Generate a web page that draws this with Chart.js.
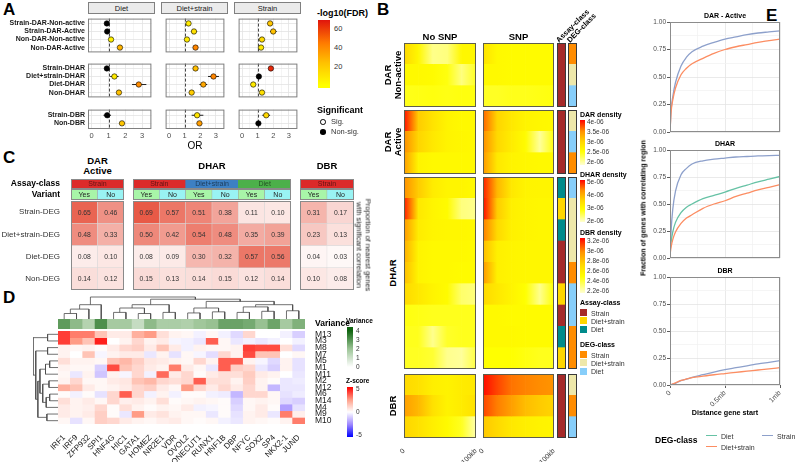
<!DOCTYPE html>
<html>
<head>
<meta charset="utf-8">
<title>Figure</title>
<script src="https://cdn.jsdelivr.net/npm/chart.js@4.4.1/dist/chart.umd.min.js"></script>
<style>
  html, body { margin:0; padding:0; background:#fff; }
  #root { position:relative; width:796px; height:462px; overflow:hidden; background:#fff;
          font-family:'Liberation Sans', Arial, Helvetica, sans-serif; }
  #root canvas { position:absolute; }
  .t { position:absolute; white-space:pre; line-height:1; transform-origin:0 0; }
  .b { position:absolute; box-sizing:border-box; }
</style>
</head>
<body>
<div id="root"></div>
<script>
/* ======================= DATA ======================= */
// ---- Panel A (rows in order rowsA1 + rowsA2 + rowsA3)
const facetsA = ['Diet', 'Diet+strain', 'Strain'];
const rowsA1 = ['Strain-DAR-Non-active', 'Strain-DAR-Active', 'Non-DAR-Non-active', 'Non-DAR-Active'];
const rowsA2 = ['Strain-DHAR', 'Diet+strain-DHAR', 'Diet-DHAR', 'Non-DHAR'];
const rowsA3 = ['Strain-DBR', 'Non-DBR'];
const orDiet    = [0.90, 0.92, 1.15, 1.68, 0.90, 1.35, 2.80, 1.62, 0.92, 1.80];
const loDiet    = [0.80, 0.80, 1.05, 1.58, 0.80, 1.10, 2.40, 1.52, 0.70, 1.65];
const hiDiet    = [1.00, 1.05, 1.25, 1.80, 1.00, 1.60, 3.25, 1.72, 1.15, 1.95];
const fdrDiet   = [0, 0, 6, 28, 0, 8, 40, 24, 0, 22];
const sigDiet   = [0, 0, 1, 1, 0, 1, 1, 1, 0, 1];
const orDS      = [1.25, 1.60, 1.15, 1.70, 1.70, 2.85, 2.20, 1.45, 1.80, 1.95];
const loDS      = [1.15, 1.42, 1.05, 1.62, 1.60, 2.50, 1.95, 1.38, 1.45, 1.82];
const hiDS      = [1.35, 1.80, 1.25, 1.80, 1.82, 3.20, 2.45, 1.52, 2.20, 2.10];
const fdrDS     = [8, 12, 8, 42, 25, 42, 32, 20, 10, 35];
const sigDS     = [1, 1, 1, 1, 1, 1, 1, 1, 1, 1];
const orStrain  = [1.80, 2.00, 1.28, 1.22, 1.85, 1.08, 0.72, 1.28, 1.55, 1.05];
const loStrain  = [1.65, 1.80, 1.20, 1.15, 1.75, 0.95, 0.65, 1.20, 1.30, 0.98];
const hiStrain  = [1.95, 2.22, 1.36, 1.30, 1.95, 1.20, 0.80, 1.36, 1.80, 1.12];
const fdrStrain = [22, 24, 14, 8, 65, 0, 8, 12, 15, 0];
const sigStrain = [1, 1, 1, 1, 1, 0, 1, 1, 1, 0];
const orTicks = [0, 0.5, 1, 1.5, 2, 2.5, 3, 3.5];
const fdrLegendTicks = [60, 40, 20];

// ---- Panel B (density x1e-06 at 0,20,40,60,80,100 kb)
const binKb = [0, 20, 40, 60, 80, 100];
const snpCols = ['No SNP', 'SNP'];
const groupLabelsB = ['DAR\nNon-active', 'DAR\nActive', 'DHAR', 'DBR'];
const densNA_noSNP = [[2.98,2.62,2.08,2.12,2.62,2.62],[2.59,2.59,2.57,2.48,2.12,2.41],[2.44,2.46,2.48,2.46,2.48,2.48]];
const densNA_SNP   = [[2.86,2.59,2.57,2.57,2.57,2.57],[2.59,2.59,2.57,2.57,2.57,2.57],[2.41,2.41,2.44,2.44,2.46,2.48]];
const densA_noSNP  = [[4.03,3.09,2.86,2.66,2.59,2.59],[3.54,3.02,2.80,2.66,2.62,2.59],[3.43,2.66,2.59,2.59,2.59,2.59]];
const densA_SNP    = [[3.70,3.02,2.80,2.66,2.62,2.59],[3.54,2.98,2.75,2.57,2.03,2.48],[3.47,2.80,2.66,2.62,2.59,2.59]];
const densDHAR_noSNP = [[4.34,3.70,3.21,3.05,3.05,2.99],[4.99,3.28,3.05,2.95,2.31,2.24],[4.25,3.21,3.05,3.02,3.02,2.99],
  [4.02,3.08,2.99,2.99,2.99,2.95],[3.86,3.08,2.99,2.99,2.95,2.95],[3.54,3.28,3.08,2.95,2.40,2.31],
  [2.82,2.79,2.76,2.76,2.76,2.76],[2.76,2.76,2.24,2.70,2.76,2.76],[2.73,2.73,2.66,2.24,2.18,2.57]];
const densDHAR_SNP = [[4.99,3.92,3.28,3.08,3.05,3.05],[5.09,3.70,3.15,3.05,3.02,3.02],[4.44,3.54,3.12,3.05,3.02,3.02],
  [3.86,3.15,3.05,3.02,3.02,3.02],[4.25,3.15,3.05,3.02,3.02,3.02],[3.54,3.28,3.08,2.89,2.24,2.89],
  [2.99,2.99,2.95,2.95,2.95,2.95],[2.99,2.99,2.99,2.95,2.95,2.95],[2.89,2.89,2.89,2.82,2.76,2.76]];
const densDBR_noSNP = [[2.71,2.66,2.58,2.56,2.60,2.62],[2.93,2.84,2.66,2.56,2.60,2.66],[2.73,2.66,2.58,2.52,2.44,2.22]];
const densDBR_SNP   = [[3.24,3.13,3.04,3.01,2.99,2.97],[3.13,3.02,2.93,2.82,2.77,2.73],[2.78,2.71,2.62,2.58,2.56,2.55]];
const assayNA   = ['Strain', 'Strain', 'Strain'];
const assayAct  = ['Strain', 'Strain', 'Strain'];
const assayDHAR = ['Diet', 'Diet+strain', 'Diet', 'Strain', 'Strain', 'Diet+strain', 'Strain', 'Diet', 'Diet+strain'];
const assayDBR  = ['Strain', 'Strain', 'Strain'];
const degNA   = ['Strain', 'Diet+strain', 'Diet'];
const degAct  = ['Diet+strain', 'Diet', 'Strain'];
const degDHAR = ['Diet', 'Diet+strain', 'Diet+strain', 'Diet+strain', 'Strain', 'Diet', 'Diet', 'Strain', 'Strain'];
const degDBR  = ['Diet+strain', 'Strain', 'Diet'];
const darLegTicks  = [4, 3.5, 3, 2.5, 2];
const dharLegTicks = [5, 4, 3, 2];
const dbrLegTicks  = [3.2, 3, 2.8, 2.6, 2.4, 2.2];
const classNames = ['Strain', 'Diet+strain', 'Diet'];

// ---- Panel C
const rowsC = ['Strain-DEG', 'Diet+strain-DEG', 'Diet-DEG', 'Non-DEG'];
const variantC = ['Yes', 'No'];
const darC  = [[0.65,0.46],[0.48,0.33],[0.08,0.10],[0.14,0.12]];
const dharC = [[0.69,0.57,0.51,0.38,0.11,0.10],[0.50,0.42,0.54,0.48,0.35,0.39],[0.08,0.09,0.30,0.32,0.57,0.56],[0.15,0.13,0.14,0.15,0.12,0.14]];
const dbrC  = [[0.31,0.17],[0.23,0.13],[0.04,0.03],[0.10,0.08]];
const assayC_DAR  = ['Strain'];
const assayC_DHAR = ['Strain', 'Diet+strain', 'Diet'];
const assayC_DBR  = ['Strain'];

// ---- Panel D
const tfD = ['IRF1','IRF9','ZFP932','SPI1','HNF4G','HIC1','GATA1','HOMEZ','NR2E1','VDR','OVOL2','ONECUT1','RUNX1','HNF1B','DBP','NFYC','SOX2','SP4','NKX2-1','JUND'];
const modulesD = ['M13','M3','M8','M7','M5','M1','M11','M2','M12','M6','M14','M4','M9','M10'];
const varianceD = [2.86,2.2,1.5,3.1,1.8,1.8,1.17,2.2,1.7,1.7,1.6,1.9,2.06,2.7,2.7,2.55,2.06,2.66,1.8,2.4];
const zD = [
  [4,3,3,1.5,0.5,0.5,2,2.5,0.8,0.3,0.2,-0.3,0.2,-0.3,-0.8,1,0,0,-0.3,-1],
  [4,2.5,1.5,4.5,0,0.3,1,0.3,0.5,-0.2,-0.3,-0.5,3.5,0.2,-0.5,-0.3,-0.5,-0.3,0,-0.3],
  [0.3,0.2,0.3,0.1,0.5,1,1.2,0.5,1.5,0.5,-0.3,0.3,0.2,0.2,0.3,4,3.8,3.8,0.8,-0.8],
  [0.3,0,1.5,-0.2,0.3,0.5,0.5,-0.5,0.3,-0.6,0.2,-0.2,-0.7,1,0.3,3.8,1.5,1.5,0,0.2],
  [0.8,0.3,0.3,0.2,1.5,1.8,1.2,0.6,0.5,0.3,0.2,1,0.3,3.5,3.5,0.3,-0.2,-0.8,0.3,-0.6],
  [0.3,0.2,0.2,-1,3.8,1.5,1,0.5,0.3,3,0.5,0.2,-0.5,3.5,1.2,1,-0.5,-1,0.3,-0.6],
  [0.2,-0.5,0.3,-1.2,0.3,-0.2,1,-0.3,3.3,0.5,1,0.1,0.5,0.8,0.8,1.3,0.5,0.3,0,-0.5],
  [0.3,1,0.2,0.2,0.5,0.6,1.5,1.8,1,0.8,1,3.5,0.8,0.8,0.3,1.2,0.3,0.1,-0.5,-0.4],
  [2,1.5,0.5,0.2,0.3,0.5,1,1.2,0.5,0.2,2.5,1,0.5,1,0.5,1,0.3,-1.5,-0.5,-0.5],
  [0.1,-0.3,0.1,-0.6,1,3.5,1,-0.3,0.3,-0.3,0.1,0.1,-0.3,-0.4,-1.5,1,1,0.2,-0.6,-0.4],
  [0.8,0.3,0.5,0.2,1,0.4,0.5,0.3,0.8,0.1,0.2,0.3,0.2,0.1,-1,0.2,0.3,0.2,-0.8,-1],
  [0.5,0.3,0.4,1,0.1,0.8,0.3,0.1,0.3,0.2,0.5,-0.3,-0.2,0.1,-0.8,0.2,0.5,0.1,-2,-0.6],
  [0.5,0.3,0.5,1.2,0.1,-0.5,2.5,0.5,0.7,0.3,0.2,0.2,-0.5,0.1,-0.6,0.3,0.5,-0.5,3,0.4],
  [0.2,-0.6,0.2,1.2,1,0.5,0.3,0.2,0.4,0.5,0.2,0.1,0.2,-0.3,-0.5,0.3,0.2,0.1,0.3,3]];
// merges: [childA, childB, height]; leaves 0..n-1, merge k gets id n+k
const colTreeD = [[0,1,1.0],[20,2,1.8],[21,3,2.6],[4,5,1.2],[6,7,1.0],[23,24,2.0],[8,9,1.2],[25,26,2.6],
  [10,11,1.1],[12,13,1.3],[28,29,2.0],[14,15,1.2],[16,17,1.4],[31,32,2.2],[18,19,1.5],[33,34,2.6],[30,35,3.2],[27,36,3.6],[22,37,4.0]];
const rowTreeD = [[0,1,1.5],[2,3,1.5],[4,5,1.2],[16,6,1.8],[7,8,1.3],[9,10,1.2],[19,11,1.7],[18,20,2.2],[17,21,2.6],[12,13,1.6],[22,23,2.9],[15,24,3.2],[14,25,3.6]];
const varLegTicks = [4, 3, 2, 1, 0];
const zLegTicks = [5, 0, -5];

// ---- Panel E (fraction of genes vs distance, mb)
const distMb = [0, 0.01, 0.025, 0.05, 0.1, 0.15, 0.2, 0.3, 0.4, 0.5, 0.6, 0.7, 0.8, 0.9, 1.0];
const darActStrain = [0, 0.20, 0.32, 0.45, 0.60, 0.68, 0.73, 0.78, 0.815, 0.845, 0.865, 0.885, 0.90, 0.91, 0.92];
const darActDS     = [0, 0.18, 0.29, 0.40, 0.52, 0.58, 0.62, 0.67, 0.715, 0.75, 0.775, 0.795, 0.815, 0.83, 0.845];
const dharStrain   = [0, 0.25, 0.45, 0.62, 0.77, 0.83, 0.87, 0.90, 0.915, 0.925, 0.935, 0.94, 0.945, 0.948, 0.95];
const dharDiet     = [0.05, 0.15, 0.24, 0.33, 0.42, 0.47, 0.50, 0.55, 0.58, 0.61, 0.645, 0.675, 0.705, 0.73, 0.755];
const dharDS       = [0.03, 0.10, 0.17, 0.24, 0.32, 0.37, 0.40, 0.46, 0.50, 0.53, 0.57, 0.60, 0.63, 0.655, 0.68];
const dbrStrain    = [0, 0.003, 0.008, 0.016, 0.04, 0.055, 0.07, 0.095, 0.12, 0.142, 0.16, 0.178, 0.195, 0.21, 0.225];
const dbrDS        = [0, 0.004, 0.010, 0.020, 0.042, 0.056, 0.068, 0.082, 0.095, 0.106, 0.117, 0.128, 0.139, 0.15, 0.16];
const yTicksE = [0, 0.125, 0.25, 0.375, 0.5, 0.625, 0.75, 0.875, 1];
const xTicksE = [0, 0.25, 0.5, 0.75, 1];

/* ======================= HELPERS ======================= */
const root = document.getElementById('root');
const FONT = "'Liberation Sans', Arial, Helvetica, sans-serif";
Chart.defaults.font.family = FONT;
Chart.defaults.animation = false;
Chart.defaults.responsive = false;
Chart.defaults.maintainAspectRatio = false;
Chart.defaults.events = [];
Chart.defaults.plugins.legend.display = false;
Chart.defaults.plugins.tooltip.enabled = false;
Chart.defaults.color = '#333';

function mkCanvas(x, y, w, h) {
  const c = document.createElement('canvas');
  c.width = w; c.height = h;
  c.style.left = x + 'px'; c.style.top = y + 'px';
  c.style.width = w + 'px'; c.style.height = h + 'px';
  root.appendChild(c);
  return c;
}
function T(s, x, y, o = {}) {
  const d = document.createElement('div');
  d.className = 't';
  d.textContent = s;
  d.style.left = x + 'px'; d.style.top = y + 'px';
  d.style.fontSize = (o.size || 8) + 'px';
  d.style.fontWeight = o.bold ? '700' : '400';
  d.style.color = o.color || '#000';
  d.style.textAlign = o.align || 'left';
  if (o.lh) d.style.lineHeight = o.lh;
  const ax = { left: 0, center: -50, right: -100 }[o.align || 'left'];
  const ay = { top: 0, middle: -50, bottom: -100 }[o.valign || 'middle'];
  d.style.transform = `rotate(${o.rot || 0}deg) translate(${ax}%, ${ay}%)`;
  root.appendChild(d);
  return d;
}
function box(x, y, w, h, css) {
  const d = document.createElement('div');
  d.className = 'b';
  d.style.cssText += `left:${x}px;top:${y}px;width:${w}px;height:${h}px;` + (css || '');
  root.appendChild(d);
  return d;
}
function fixW(w) { return s => { s.width = w; s.paddingTop = s.paddingBottom = s.paddingLeft = s.paddingRight = 0; }; }
function fixH(h) { return s => { s.height = h; s.paddingTop = s.paddingBottom = s.paddingLeft = s.paddingRight = 0; }; }
function hex2rgb(h) { return [parseInt(h.slice(1, 3), 16), parseInt(h.slice(3, 5), 16), parseInt(h.slice(5, 7), 16)]; }
function ramp(stops) {
  const s = stops.map(([t, c]) => [t, hex2rgb(c)]);
  return t => {
    t = Math.max(0, Math.min(1, t));
    for (let i = 1; i < s.length; i++) {
      if (t <= s[i][0]) {
        const a = s[i - 1], b = s[i], f = (t - a[0]) / (b[0] - a[0]);
        const c = a[1].map((v, k) => Math.round(v + (b[1][k] - v) * f));
        return `rgb(${c[0]},${c[1]},${c[2]})`;
      }
    }
    return `rgb(${s[s.length - 1][1].join(',')})`;
  };
}
function cssGrad(fn, n = 24) {
  const st = [];
  for (let i = 0; i <= n; i++) st.push(`${fn(i / n)} ${(i / n * 100).toFixed(1)}%`);
  return `linear-gradient(to top, ${st.join(',')})`;
}

const framePlugin = {
  id: 'frame',
  afterDatasetsDraw(chart, args, opts) {
    if (!opts || !opts.color) return;
    const a = chart.chartArea, ctx = chart.ctx, lw = opts.width || 1;
    ctx.save();
    ctx.strokeStyle = opts.color; ctx.lineWidth = lw;
    ctx.strokeRect(a.left + lw / 2, a.top + lw / 2, a.right - a.left - lw, a.bottom - a.top - lw);
    ctx.restore();
  }
};
const cellTextPlugin = {
  id: 'cellText',
  afterDatasetsDraw(chart, args, opts) {
    const ctx = chart.ctx;
    ctx.save();
    ctx.font = (opts && opts.fnt) || `6.8px ${FONT}`;
    ctx.fillStyle = (opts && opts.color) || '#333';
    ctx.textAlign = 'center'; ctx.textBaseline = 'middle';
    chart.data.datasets.forEach((ds, di) => {
      if (!ds.txt) return;
      chart.getDatasetMeta(di).data.forEach((el, i) => {
        const t = ds.txt[i];
        if (t == null || t === '') return;
        ctx.fillText(t, el.x, (el.y + el.base) / 2 + 0.5);
      });
    });
    ctx.restore();
  }
};
const errBarsPlugin = {
  id: 'errBars',
  beforeDatasetsDraw(chart) {
    const ds = chart.data.datasets[0], x = chart.scales.x, y = chart.scales.y, ctx = chart.ctx, a = chart.chartArea;
    ctx.save();
    ctx.strokeStyle = '#333'; ctx.lineWidth = 0.9; ctx.setLineDash([3, 2]);
    ctx.beginPath();
    const p1 = Math.round(x.getPixelForValue(1)) + 0.5;
    ctx.moveTo(p1, a.top); ctx.lineTo(p1, a.bottom); ctx.stroke();
    ctx.setLineDash([]);
    ctx.strokeStyle = '#222'; ctx.lineWidth = 1;
    ctx.beginPath();
    ds.lo.forEach((lo, i) => {
      const py = y.getPixelForValue(i);
      ctx.moveTo(x.getPixelForValue(lo), py); ctx.lineTo(x.getPixelForValue(ds.hi[i]), py);
    });
    ctx.stroke();
    ctx.restore();
  }
};

// generic cell grid drawn as floating bars
function grid(o) {
  const aw = o.axisW || 0, ah = o.axisH || 0;
  const pl = o.padL || 0, pr = o.padR != null ? o.padR : 1, pt = o.padT || 0, pb = o.padB != null ? o.padB : 1;
  const right = o.axisPos === 'right';
  const cx = (right ? o.x : o.x - aw) - pl;
  const cv = mkCanvas(cx, o.y - pt, pl + aw + o.w + pr, pt + o.h + ah + pb);
  const cols = [...Array(o.nC).keys()].map(i => 'c' + i);
  const datasets = [...Array(o.nR).keys()].map(r => ({
    data: cols.map(() => [r, r + 1]),
    backgroundColor: cols.map((_, c) => o.color(r, c)),
    txt: o.text ? cols.map((_, c) => o.text(r, c)) : null,
    borderColor: o.cellBorder || 'rgba(0,0,0,0)', borderWidth: o.cellBorderW || 0, borderSkipped: false,
    categoryPercentage: 1, barPercentage: 1, grouped: false
  }));
  return new Chart(cv, {
    type: 'bar', data: { labels: cols, datasets },
    options: {
      layout: { padding: { left: pl, right: pr, top: pt, bottom: pb } },
      scales: {
        x: { type: 'category', offset: true, display: !!o.colLabels, position: 'bottom',
             grid: { display: false }, border: { display: false }, afterFit: fixH(ah),
             ticks: { autoSkip: false, minRotation: o.rot || 0, maxRotation: o.rot || 0, padding: 1,
                      font: o.colFont || { size: 8 }, color: '#1a1a1a', callback: (v, i) => o.colLabels ? o.colLabels[i] : '' } },
        y: { type: 'linear', min: 0, max: o.nR, reverse: true, bounds: 'data', display: !!o.rowLabels, position: right ? 'right' : 'left',
             grid: { display: false }, border: { display: false }, afterFit: fixW(aw),
             afterBuildTicks: s => { s.ticks = [...Array(o.nR).keys()].map(i => ({ value: i + 0.5 })); },
             ticks: { autoSkip: false, padding: o.rowPad != null ? o.rowPad : 3, font: o.rowFont || { size: 8 },
                      color: o.rowColor || '#333', callback: (v, i) => o.rowLabels ? o.rowLabels[i] : '' } }
      },
      plugins: { frame: { color: o.frameColor || '' }, cellText: { fnt: o.textFont || `6.8px ${FONT}`, color: o.textColor || '#333' } }
    },
    plugins: [framePlugin, cellTextPlugin]
  });
}

/* ======================= PANEL LETTERS ======================= */
T('A', 3, 1, { size: 17, bold: true, valign: 'top' });
T('B', 377, 1, { size: 17, bold: true, valign: 'top' });
T('C', 3, 149, { size: 17, bold: true, valign: 'top' });
T('D', 3, 289, { size: 17, bold: true, valign: 'top' });
T('E', 766, 7, { size: 17, bold: true, valign: 'top' });

/* ======================= PANEL A ======================= */
const orA = [orDiet, orDS, orStrain], loA = [loDiet, loDS, loStrain], hiA = [hiDiet, hiDS, hiStrain];
const fdrA = [fdrDiet, fdrDS, fdrStrain], sigA = [sigDiet, sigDS, sigStrain];
const groupsA = [rowsA1, rowsA2, rowsA3];
const colXA = [88, 161, 234], WA = 67;
const grpGeoA = [{ top: 14, h: 42, min: -0.6, max: 3.6 }, { top: 59, h: 42, min: -0.6, max: 3.6 }, { top: 105, h: 24, min: -0.7, max: 1.7 }];
const fdrColor = ramp([[0, '#ffff00'], [0.35, '#ffc000'], [0.65, '#ff7a00'], [1, '#e0140c']]);
const FDR_MAX = 70;

facetsA.forEach((f, fi) => {
  box(colXA[fi], 2, WA, 12, 'background:#ebebeb;border:1px solid #808080;');
  T(f, colXA[fi] + WA / 2, 8.5, { size: 7.5, align: 'center', color: '#1a1a1a' });
});
let startRow = 0;
groupsA.forEach((rows, gi) => {
  const g = grpGeoA[gi], s0 = startRow;
  startRow += rows.length;
  facetsA.forEach((f, fi) => {
    const first = fi === 0, bottom = gi === groupsA.length - 1;
    const yw = first ? colXA[0] : 0, xh = bottom ? 15 : 0;
    const cv = mkCanvas(first ? 0 : colXA[fi], g.top, yw + WA + 1, g.h + xh + 1);
    const ks = rows.map((_, i) => s0 + i);
    new Chart(cv, {
      type: 'scatter',
      data: { datasets: [{
        data: ks.map((k, i) => ({ x: orA[fi][k], y: i })),
        lo: ks.map(k => loA[fi][k]), hi: ks.map(k => hiA[fi][k]),
        backgroundColor: ks.map(k => sigA[fi][k] ? fdrColor(fdrA[fi][k] / FDR_MAX) : '#000000'),
        borderColor: '#000', borderWidth: 0.6, pointRadius: 2.7
      }] },
      options: {
        layout: { padding: { left: 0, top: 0, right: 1, bottom: 1 } },
        scales: {
          x: { type: 'linear', min: -0.22, max: 3.55, bounds: 'data',
               afterBuildTicks: s => { s.ticks = orTicks.map(v => ({ value: v })); },
               afterFit: fixH(xh), border: { display: false },
               grid: { drawTicks: false, lineWidth: 0.8, color: c => (c.tick && Number.isInteger(c.tick.value)) ? '#e3e3e3' : '#f3f3f3' },
               ticks: { display: bottom, padding: 2, color: '#4d4d4d', font: { size: 7.5 }, maxRotation: 0, autoSkip: false,
                        callback: v => Number.isInteger(v) ? String(v) : '' } },
          y: { type: 'linear', min: g.min, max: g.max, reverse: true, bounds: 'data',
               afterBuildTicks: s => { s.ticks = rows.map((_, i) => ({ value: i })); },
               afterFit: fixW(yw), border: { display: false },
               grid: { drawTicks: false, lineWidth: 0.8, color: '#e3e3e3' },
               ticks: { display: first, padding: 3, color: '#1a1a1a', font: { size: 7, weight: 'bold' }, autoSkip: false,
                        callback: (v, i) => rows[i] } }
        },
        plugins: { frame: { color: '#808080' } }
      },
      plugins: [errBarsPlugin, framePlugin]
    });
  });
});
T('OR', 195, 146, { size: 10, align: 'center' });
// legend: -log10(FDR)
T('-log10(FDR)', 317, 13, { size: 9, bold: true });
box(318, 20, 12, 68, 'background:' + cssGrad(t => fdrColor(Math.max(0, -3 + t * 73) / FDR_MAX)) + ';');
fdrLegendTicks.forEach(v => {
  const yy = 88 - (v + 3) / 73 * 68;
  T(String(v), 334, yy, { size: 7.5, color: '#333' });
});
T('Significant', 317, 110, { size: 9, bold: true });
box(320.2, 119.2, 5.6, 5.6, 'border:0.8px solid #000;border-radius:50%;background:#fff;');
T('Sig.', 331, 122, { size: 7.5, color: '#333' });
box(320.2, 129.2, 5.6, 5.6, 'border-radius:50%;background:#000;');
T('Non-sig.', 331, 132, { size: 7.5, color: '#333' });

/* ======================= PANEL B ======================= */
const heatB = [[densNA_noSNP, densNA_SNP], [densA_noSNP, densA_SNP], [densDHAR_noSNP, densDHAR_SNP], [densDBR_noSNP, densDBR_SNP]];
const assayB = [assayNA, assayAct, assayDHAR, assayDBR];
const degB = [degNA, degAct, degDHAR, degDBR];
const legGeoB = [{ top: 120, bottom: 165, vmin: 1.85, vmax: 4.1 }, { top: 180, bottom: 222, vmin: 1.92, vmax: 5.15 }, { top: 238, bottom: 293, vmin: 2.16, vmax: 3.26 }];
const scaleIdxB = [0, 0, 1, 2];
const grpGeoB = [{ top: 43, h: 64 }, { top: 110, h: 64 }, { top: 177, h: 192 }, { top: 374, h: 64 }];
const colXB = [404, 483], colWB = [72, 71];
const densRamp = ramp([[0, '#ffffd2'], [0.3, '#ffff00'], [0.52, '#ffd500'], [0.75, '#ff9000'], [1, '#ff0000']]);
const assayColB = { 'Strain': '#a52a2a', 'Diet+strain': '#ffd700', 'Diet': '#008b8b' };
const degColB = { 'Strain': '#ff8c00', 'Diet+strain': '#eee8aa', 'Diet': '#87cefa' };

function heatRows(x, y, w, h, vals, sc, showX) {
  const padL = 6, xh = showX ? 24 : 0;
  const cv = mkCanvas(x - padL, y, w + padL + 2, h + xh + 2);
  const tOf = v => (v - sc.vmin) / (sc.vmax - sc.vmin);
  const datasets = binKb.slice(0, -1).map((b, k) => ({
    data: vals.map(() => [binKb[k], binKb[k + 1]]),
    backgroundColor: c => {
      const row = vals[c.dataIndex];
      if (c.type !== 'data' || !row) return '#ffff33';
      const ch = c.chart, xs = ch.scales && ch.scales.x;
      const flat = densRamp(tOf((row[k] + row[k + 1]) / 2));
      if (!xs) return flat;
      const x0 = xs.getPixelForValue(binKb[k]), x1 = xs.getPixelForValue(binKb[k + 1]);
      if (!isFinite(x0) || !isFinite(x1) || x1 <= x0) return flat;
      const gr = ch.ctx.createLinearGradient(x0, 0, x1, 0);
      gr.addColorStop(0, densRamp(tOf(row[k])));
      gr.addColorStop(1, densRamp(tOf(row[k + 1])));
      return gr;
    },
    borderWidth: 0, categoryPercentage: 1, barPercentage: 1, grouped: false
  }));
  new Chart(cv, {
    type: 'bar', data: { labels: vals.map((_, i) => 'r' + i), datasets },
    options: {
      indexAxis: 'y',
      layout: { padding: { left: padL, right: 2, top: 0, bottom: 2 } },
      scales: {
        y: { type: 'category', offset: true, display: false },
        x: { type: 'linear', min: 0, max: 100, bounds: 'data', display: showX,
             afterBuildTicks: s => { s.ticks = [{ value: binKb[0] }, { value: binKb[binKb.length - 1] }]; },
             afterFit: fixH(xh), border: { display: false }, grid: { display: false },
             ticks: { autoSkip: false, minRotation: 45, maxRotation: 45, padding: 1, font: { size: 7 }, color: '#333',
                      callback: v => v === 0 ? '0' : v + 'kb' } }
      },
      plugins: { frame: { color: '#5e5e4c' } }
    },
    plugins: [framePlugin]
  });
}
function strip(x, y, w, h, cats, cmap) {
  const cv = mkCanvas(x, y, w + 1, h + 1);
  new Chart(cv, {
    type: 'bar',
    data: { labels: cats.map((_, i) => 'r' + i), datasets: [{ data: cats.map(() => [0, 1]), backgroundColor: cats.map(k => cmap[k]), borderWidth: 0, categoryPercentage: 1, barPercentage: 1 }] },
    options: { indexAxis: 'y', layout: { padding: { right: 1, bottom: 1 } },
      scales: { x: { type: 'linear', min: 0, max: 1, display: false }, y: { type: 'category', offset: true, display: false } },
      plugins: { frame: { color: '#3a3a3a' } } },
    plugins: [framePlugin]
  });
}
grpGeoB.forEach((g, gi) => {
  const last = gi === grpGeoB.length - 1;
  heatB[gi].forEach((vals, ci) => heatRows(colXB[ci], g.top, colWB[ci], g.h, vals, legGeoB[scaleIdxB[gi]], last));
  strip(557, g.top, 9, g.h, assayB[gi], assayColB);
  strip(568, g.top, 9, g.h, degB[gi], degColB);
  T(groupLabelsB[gi], 393, g.top + g.h / 2, { size: 9.5, bold: true, rot: -90, align: 'center', lh: 1.1 });
});
snpCols.forEach((s, ci) => T(s, colXB[ci] + colWB[ci] / 2, 37, { size: 9.5, bold: true, align: 'center' }));
T('Assay-class', 560, 44, { size: 7.5, bold: true, rot: -45, valign: 'bottom' });
T('DEG-class', 571, 44, { size: 7.5, bold: true, rot: -45, valign: 'bottom' });
// density legends
const legTitlesB = ['DAR density', 'DHAR density', 'DBR density'];
const legTicksB = [darLegTicks, dharLegTicks, dbrLegTicks];
legGeoB.forEach((lg, li) => {
  T(legTitlesB[li], 580, lg.top - 6, { size: 7, bold: true });
  box(580, lg.top, 5, lg.bottom - lg.top, 'background:' + cssGrad(t => densRamp(t)) + ';');
  legTicksB[li].forEach(v => {
    const yy = lg.bottom - (v - lg.vmin) / (lg.vmax - lg.vmin) * (lg.bottom - lg.top);
    T(v + 'e-06', 587, yy, { size: 6.5, color: '#333' });
  });
});
T('Assay-class', 580, 302, { size: 7, bold: true });
classNames.forEach((k, i) => {
  box(580, 309 + i * 8.4, 7, 7, 'background:' + assayColB[k] + ';');
  T(k, 591, 312.5 + i * 8.4, { size: 7, color: '#333' });
});
T('DEG-class', 580, 343.5, { size: 7, bold: true });
classNames.forEach((k, i) => {
  box(580, 351 + i * 8.4, 7, 7, 'background:' + degColB[k] + ';');
  T(k, 591, 354.5 + i * 8.4, { size: 7, color: '#333' });
});

/* ======================= PANEL C ======================= */
const assayColC = { 'Strain': '#dc2a2a', 'Diet+strain': '#3d80c3', 'Diet': '#4cb04a' };
const variantColC = { 'Yes': '#a8f5a8', 'No': '#99f3f3' };
const propColor = ramp([[0, '#ffffff'], [1, '#e4402a']]);
const blocksC = [
  { x: 71, w: 53, vals: darC, assay: assayC_DAR, title: 'DAR\nActive' },
  { x: 133, w: 158, vals: dharC, assay: assayC_DHAR, title: 'DHAR' },
  { x: 300, w: 54, vals: dbrC, assay: assayC_DBR, title: 'DBR' }];
blocksC.forEach((b, bi) => {
  const first = bi === 0, nC = b.vals[0].length;
  T(b.title, b.x + b.w / 2, 166, { size: 9.5, bold: true, align: 'center', lh: 1.1 });
  grid({ x: b.x, y: 179, w: b.w, h: 10, nR: 1, nC: b.assay.length, color: (r, c) => assayColC[b.assay[c]], text: (r, c) => b.assay[c],
         rowLabels: first ? ['Assay-class'] : null, axisW: first ? b.x : 0, rowFont: { size: 8.5, weight: 'bold' }, rowColor: '#000',
         frameColor: '#8a8a8a', textColor: 'rgba(0,0,0,0.55)', textFont: `7px ${FONT}` });
  grid({ x: b.x, y: 189, w: b.w, h: 11, nR: 1, nC, color: (r, c) => variantColC[variantC[c % 2]], text: (r, c) => variantC[c % 2],
         rowLabels: first ? ['Variant'] : null, axisW: first ? b.x : 0, rowFont: { size: 8.5, weight: 'bold' }, rowColor: '#000',
         frameColor: '#8a8a8a', cellBorder: '#9a9a9a', cellBorderW: 0.5, textColor: '#222', textFont: `7px ${FONT}` });
  grid({ x: b.x, y: 201, w: b.w, h: 89, nR: 4, nC, color: (r, c) => propColor(b.vals[r][c] / 0.8), text: (r, c) => b.vals[r][c].toFixed(2),
         rowLabels: first ? rowsC : null, axisW: first ? b.x : 0, rowFont: { size: 8 }, rowColor: '#333',
         frameColor: '#8a8a8a', cellBorder: '#d5d5d5', cellBorderW: 0.5, textColor: '#333', textFont: `6.8px ${FONT}` });
});
T('Proportion of nearest genes\nwith significant correlation', 363, 245, { size: 7.5, rot: 90, align: 'center', lh: 1.15, color: '#222' });

/* ======================= PANEL D ======================= */
const zColor = ramp([[0, '#0000ff'], [0.25, '#9d87ff'], [0.5, '#ffffff'], [0.75, '#ff9c86'], [1, '#ff0000']]);
const zT = v => (v + 5) / 10;
const varColor = ramp([[0, '#ffffff'], [0.5, '#9cc496'], [1, '#0f640f']]);
const varT = v => v / 4;
grid({ x: 58, y: 319, w: 247, h: 10, nR: 1, nC: tfD.length, color: (r, c) => varColor(varT(varianceD[c])),
       rowLabels: ['Variance'], axisW: 60, axisPos: 'right', rowFont: { size: 8.5, weight: 'bold' }, rowColor: '#000', rowPad: 2 });
grid({ x: 58, y: 331, w: 247, h: 93, nR: modulesD.length, nC: tfD.length, color: (r, c) => zColor(zT(zD[r][c])),
       rowLabels: modulesD, axisW: 30, axisPos: 'right', rowFont: { size: 8.5 }, rowColor: '#1a1a1a', rowPad: 2,
       colLabels: tfD, axisH: 40, rot: 45, colFont: { size: 8 }, padL: 22 });
function dendroSegs(tree, n) {
  const pos = [...Array(n).keys()].map(i => i + 0.5), ht = new Array(n).fill(0), segs = [];
  tree.forEach(([a, b, h]) => {
    segs.push([[pos[a], ht[a]], [pos[a], h], [pos[b], h], [pos[b], ht[b]]]);
    pos.push((pos[a] + pos[b]) / 2); ht.push(h);
  });
  return segs;
}
const segCol = dendroSegs(colTreeD, tfD.length);
new Chart(mkCanvas(57, 296, 249, 23), {
  type: 'scatter',
  data: { datasets: segCol.map(s => ({ data: s.map(([p, h]) => ({ x: p, y: h })), showLine: true, pointRadius: 0, borderColor: '#4d4d4d', borderWidth: 0.8, clip: false })) },
  options: { layout: { padding: { left: 1, right: 1, top: 1, bottom: 0 } },
    scales: { x: { type: 'linear', min: 0, max: tfD.length, display: false }, y: { type: 'linear', min: 0, max: 4.0, display: false } } }
});
const segRow = dendroSegs(rowTreeD, modulesD.length);
new Chart(mkCanvas(33, 330, 25, 95), {
  type: 'scatter',
  data: { datasets: segRow.map(s => ({ data: s.map(([p, h]) => ({ x: h, y: p })), showLine: true, pointRadius: 0, borderColor: '#4d4d4d', borderWidth: 0.8, clip: false })) },
  options: { layout: { padding: { left: 0, right: 0, top: 1, bottom: 1 } },
    scales: { x: { type: 'linear', min: 0, max: 3.6, reverse: true, display: false }, y: { type: 'linear', min: 0, max: modulesD.length, reverse: true, display: false } } }
});
// D legends
T('Variance', 346, 321, { size: 6.5, bold: true });
box(347, 327, 6, 40, 'background:' + cssGrad(t => varColor(t * 4.4 / 4)) + ';');
varLegTicks.forEach(v => T(String(v), 356, 367 - v / 4.4 * 40, { size: 6.5, color: '#333' }));
T('Z-score', 346, 381, { size: 6.5, bold: true });
box(347, 387, 6, 50, 'background:' + cssGrad(t => zColor(t)) + ';');
zLegTicks.forEach(v => T(String(v), 356, 412 - v / 5 * 23, { size: 6.5, color: '#333' }));

/* ======================= PANEL E ======================= */
const degColE = { 'Diet': '#66c2a5', 'Diet+strain': '#fc8d62', 'Strain': '#8da0cb' };
const isQ = (v, m) => Math.abs(v * m - Math.round(v * m)) < 1e-9;
function eChart(top, h, title, series, showX) {
  const padT = 5, xh = showX ? 22 : 0;
  const cv = mkCanvas(646, top - padT, 24 + 110 + 3, padT + h + xh + 2);
  new Chart(cv, {
    type: 'scatter',
    data: { datasets: series.map(([arr, cls]) => ({ data: distMb.map((x, i) => ({ x, y: arr[i] })), showLine: true,
      borderColor: degColE[cls], borderWidth: 1.3, pointRadius: 0, cubicInterpolationMode: 'monotone' })) },
    options: {
      layout: { padding: { left: 0, top: padT, right: 3, bottom: 2 } },
      scales: {
        x: { type: 'linear', min: 0, max: 1, bounds: 'data',
             afterBuildTicks: s => { s.ticks = xTicksE.map(v => ({ value: v })); }, afterFit: fixH(xh), border: { display: false },
             grid: { lineWidth: 0.8, drawTicks: showX, tickLength: 3,
                     color: c => (c.tick && isQ(c.tick.value, 2)) ? '#e5e5e5' : '#f3f3f3',
                     tickColor: c => (c.tick && isQ(c.tick.value, 2)) ? '#333' : 'rgba(0,0,0,0)' },
             ticks: { display: showX, autoSkip: false, minRotation: 45, maxRotation: 45, padding: 1, font: { size: 7 }, color: '#4d4d4d',
                      callback: v => v === 0 ? '0' : v === 0.5 ? '0.5mb' : v === 1 ? '1mb' : '' } },
        y: { type: 'linear', min: 0, max: 1, bounds: 'data',
             afterBuildTicks: s => { s.ticks = yTicksE.map(v => ({ value: v })); }, afterFit: fixW(24), border: { display: false },
             grid: { lineWidth: 0.8, drawTicks: true, tickLength: 3,
                     color: c => (c.tick && isQ(c.tick.value, 4)) ? '#e5e5e5' : '#f3f3f3',
                     tickColor: c => (c.tick && isQ(c.tick.value, 4)) ? '#333' : 'rgba(0,0,0,0)' },
             ticks: { autoSkip: false, padding: 1, font: { size: 6.5 }, color: '#4d4d4d', callback: v => isQ(v, 4) ? v.toFixed(2) : '' } }
      },
      plugins: { frame: { color: '#8c8c8c' } }
    },
    plugins: [framePlugin]
  });
  T(title, 725, top - 7, { size: 7, bold: true, align: 'center' });
}
eChart(22, 110, 'DAR - Active', [[darActDS, 'Diet+strain'], [darActStrain, 'Strain']], false);
eChart(150, 108, 'DHAR', [[dharDS, 'Diet+strain'], [dharDiet, 'Diet'], [dharStrain, 'Strain']], false);
eChart(277, 108, 'DBR', [[dbrDS, 'Diet+strain'], [dbrStrain, 'Strain']], true);
T('Fraction of genes with correlating region', 643, 208, { size: 7, bold: true, rot: -90, align: 'center' });
T('Distance gene start', 725, 413, { size: 7.2, bold: true, align: 'center' });
T('DEG-class', 655, 440, { size: 8.5, bold: true });
box(706, 434.5, 11, 1.6, 'background:' + degColE['Diet'] + ';');
T('Diet', 721, 435.5, { size: 7, color: '#333' });
box(706, 445.5, 11, 1.6, 'background:' + degColE['Diet+strain'] + ';');
T('Diet+strain', 721, 446.5, { size: 7, color: '#333' });
box(762, 434.5, 11, 1.6, 'background:' + degColE['Strain'] + ';');
T('Strain', 777, 435.5, { size: 7, color: '#333' });
</script>
</body>
</html>
